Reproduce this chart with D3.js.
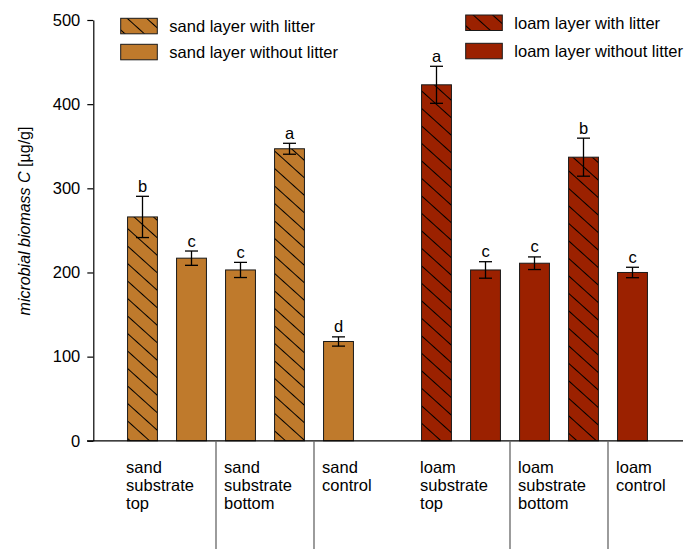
<!DOCTYPE html>
<html>
<head>
<meta charset="utf-8">
<script src="https://cdn.jsdelivr.net/npm/d3@7"></script>
<style>
  html, body { margin: 0; padding: 0; background: #fff; }
  svg { display: block; font-family: "Liberation Sans", Arial, sans-serif; }
</style>
</head>
<body>
<svg id="chart" width="699" height="549"></svg>
<script>
// Soil groups (x categories), each label split into lines
const groupLines = [
  ["sand", "substrate", "top"],
  ["sand", "substrate", "bottom"],
  ["sand", "control"],
  ["loam", "substrate", "top"],
  ["loam", "substrate", "bottom"],
  ["loam", "control"]
];

// Series shown in the legends
const seriesNames = [
  "sand layer with litter",
  "sand layer without litter",
  "loam layer with litter",
  "loam layer without litter"
];
const seriesFill = ["#bf7a2c", "#bf7a2c", "#9b2100", "#9b2100"];
const seriesHatched = [true, false, true, false];

// Bar slots in draw order; "gap" is an empty slot between the two soils
const slotKeys = ["s0a", "s0b", "s1a", "s1b", "s2a", "gap", "l0a", "l0b", "l1a", "l1b", "l2a"];

// One entry per drawn bar
const barSlot    = ["s0a", "s0b", "s1a", "s1b", "s2a", "l0a", "l0b", "l1a", "l1b", "l2a"];
const barGroup   = [0, 0, 1, 1, 2, 3, 3, 4, 4, 5];
const barSeries  = [0, 1, 1, 0, 1, 2, 3, 3, 2, 3];
const barValues  = [266, 217, 203, 347, 118, 423, 203, 211, 337, 200];
const barErrors  = [24.5, 8.5, 9, 6.5, 5.5, 22, 9.8, 7.5, 22.6, 6.2];
const barLetters = ["b", "c", "c", "a", "d", "a", "c", "c", "b", "c"];

// Y axis
const yTicks = [0, 100, 200, 300, 400, 500];
const yLabelItalic = "microbial biomass C";
const yLabelUnit = " [µg/g]";

const FS = 16.5;
const svg = d3.select("#chart");

const y = d3.scaleLinear().domain([0, 500]).range([440.8, 20]);
const x = d3.scaleBand().domain(slotKeys).range([118, 657])
  .paddingInner(0.39).paddingOuter(0.195);

// Diagonal hatch patterns for "with litter" bars
const defs = svg.append("defs");
seriesNames.forEach((name, i) => {
  if (!seriesHatched[i]) return;
  const p = defs.append("pattern")
    .attr("id", "hatch" + i)
    .attr("patternUnits", "userSpaceOnUse")
    .attr("width", 13).attr("height", 13)
    .attr("patternTransform", "rotate(42)");
  p.append("rect").attr("width", 13).attr("height", 13).attr("fill", seriesFill[i]);
  p.append("line").attr("x1", 0).attr("x2", 13).attr("y1", 6.5).attr("y2", 6.5)
    .attr("stroke", "#000").attr("stroke-width", 1);
});
const fillOf = s => seriesHatched[s] ? `url(#hatch${s})` : seriesFill[s];

// Y axis
const yAxis = svg.append("g")
  .attr("transform", "translate(93.3,0)")
  .call(d3.axisLeft(y).tickValues(yTicks).tickSize(6).tickPadding(7).tickSizeOuter(0));
yAxis.select(".domain").attr("stroke", "#000").attr("stroke-width", 1.2);
yAxis.selectAll(".tick line").attr("stroke", "#000").attr("stroke-width", 1.2);
yAxis.selectAll(".tick text").attr("font-size", FS).attr("fill", "#000")
  .attr("font-family", "'Liberation Sans', Arial, sans-serif");

// Y axis title
const yt = svg.append("text")
  .attr("transform", "translate(30,221) rotate(-90)")
  .attr("text-anchor", "middle")
  .attr("font-size", 16).attr("fill", "#000");
yt.append("tspan").attr("font-style", "italic").text(yLabelItalic);
yt.append("tspan").text(yLabelUnit);

// Bars
const idx = d3.range(barValues.length);
svg.append("g").selectAll("rect").data(idx).join("rect")
  .attr("x", i => x(barSlot[i]))
  .attr("y", i => y(barValues[i]))
  .attr("width", x.bandwidth())
  .attr("height", i => y(0) - y(barValues[i]))
  .attr("fill", i => fillOf(barSeries[i]))
  .attr("stroke", "#1a1a1a").attr("stroke-width", 1);

// Error bars
const eb = svg.append("g").attr("stroke", "#000").attr("stroke-width", 1.3);
idx.forEach(i => {
  const cx = x(barSlot[i]) + x.bandwidth() / 2;
  const top = y(barValues[i] + barErrors[i]);
  const bot = y(barValues[i] - barErrors[i]);
  eb.append("line").attr("x1", cx).attr("x2", cx).attr("y1", top).attr("y2", bot);
  eb.append("line").attr("x1", cx - 6.5).attr("x2", cx + 6.5).attr("y1", top).attr("y2", top);
  eb.append("line").attr("x1", cx - 6.5).attr("x2", cx + 6.5).attr("y1", bot).attr("y2", bot);
});

// Significance letters
svg.append("g").selectAll("text").data(idx).join("text")
  .attr("x", i => x(barSlot[i]) + x.bandwidth() / 2)
  .attr("y", i => y(barValues[i] + barErrors[i]) - 4.5)
  .attr("text-anchor", "middle")
  .attr("font-size", FS).attr("fill", "#000")
  .text(i => barLetters[i]);

// X axis baseline
svg.append("line")
  .attr("x1", 87).attr("x2", 683).attr("y1", y(0)).attr("y2", y(0))
  .attr("stroke", "#000").attr("stroke-width", 1.3);

// Group separators below the axis (within each soil)
const firstBar = g => barGroup.indexOf(g);
const lastBar = g => barGroup.lastIndexOf(g);
[0, 1, 3, 4].forEach(g => {
  const left = x(barSlot[lastBar(g)]) + x.bandwidth();
  const right = x(barSlot[firstBar(g + 1)]);
  const sx = (left + right) / 2;
  svg.append("line")
    .attr("x1", sx).attr("x2", sx).attr("y1", y(0)).attr("y2", 549)
    .attr("stroke", "#666").attr("stroke-width", 1.3);
});

// Group labels
groupLines.forEach((lines, g) => {
  const lx = x(barSlot[firstBar(g)]) - 1.5;
  const t = svg.append("text")
    .attr("x", lx).attr("y", 473)
    .attr("font-size", FS).attr("fill", "#000");
  lines.forEach((ln, k) => {
    t.append("tspan").attr("x", lx).attr("dy", k === 0 ? 0 : 18).text(ln);
  });
});

// Legends
const legendPos = [
  { sx: 120.7, sy: 18.3, tx: 169.3 },
  { sx: 120.7, sy: 44.3, tx: 169.3 },
  { sx: 465.7, sy: 15, tx: 514.3 },
  { sx: 465.7, sy: 43.3, tx: 514.3 }
];
seriesNames.forEach((name, s) => {
  const p = legendPos[s];
  svg.append("rect")
    .attr("x", p.sx).attr("y", p.sy).attr("width", 36.6).attr("height", 15.5)
    .attr("fill", fillOf(s)).attr("stroke", "#1a1a1a").attr("stroke-width", 1);
  svg.append("text")
    .attr("x", p.tx).attr("y", p.sy + 8)
    .attr("dominant-baseline", "central")
    .attr("font-size", FS).attr("fill", "#000")
    .text(name);
});
</script>
</body>
</html>
